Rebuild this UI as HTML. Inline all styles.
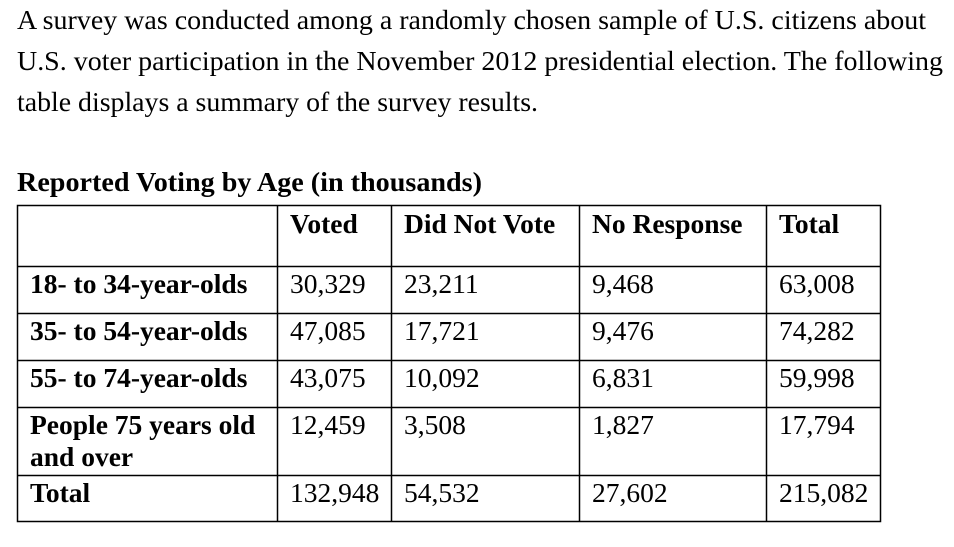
<!DOCTYPE html>
<html><head><meta charset="utf-8"><style>
html,body{margin:0;padding:0;background:#fff;}
svg{display:block;font-family:"Liberation Serif",serif;}
</style></head><body>
<svg width="954" height="547" viewBox="0 0 954 547" xmlns="http://www.w3.org/2000/svg">
<g font-size="27.5" fill="#000">
<text x="17" y="29" textLength="909" lengthAdjust="spacingAndGlyphs">A survey was conducted among a randomly chosen sample of U.S. citizens about</text>
<text x="17" y="70" textLength="926" lengthAdjust="spacingAndGlyphs">U.S. voter participation in the November 2012 presidential election. The following</text>
<text x="17" y="111" textLength="521" lengthAdjust="spacingAndGlyphs">table displays a summary of the survey results.</text>
</g>
<text x="17" y="191" font-size="27.5" font-weight="bold" textLength="465" lengthAdjust="spacingAndGlyphs">Reported Voting by Age (in thousands)</text>
<g id="tbl"></g>
</svg>
<script>
const columns = ["Voted","Did Not Vote","No Response","Total"];
const rowLabels = [["18- to 34-year-olds"],["35- to 54-year-olds"],["55- to 74-year-olds"],["People 75 years old","and over"],["Total"]];
const voted = ["30,329","47,085","43,075","12,459","132,948"];
const didNotVote = ["23,211","17,721","10,092","3,508","54,532"];
const noResponse = ["9,468","9,476","6,831","1,827","27,602"];
const totals = ["63,008","74,282","59,998","17,794","215,082"];

const NS="http://www.w3.org/2000/svg";
const g=document.getElementById('tbl');
const xs=[17,277,391,579,766,881];
const ys=[205,266,313,360,407,475,522];
function mk(tag,attrs){const e=document.createElementNS(NS,tag);for(const k in attrs)e.setAttribute(k,attrs[k]);g.appendChild(e);return e;}
mk('rect',{x:17.5,y:205.5,width:863,height:316,fill:'none',stroke:'#000','stroke-width':1.5});
for(let i=1;i<xs.length-1;i++){const l=mk('line',{x1:xs[i]+.5,x2:xs[i]+.5,y1:205,y2:522,stroke:'#000','stroke-width':1.5});

}
for(let i=1;i<ys.length-1;i++){const l=mk('line',{x1:17,x2:881,y1:ys[i]+.5,y2:ys[i]+.5,stroke:'#000','stroke-width':1.5});

}
columns.forEach((c,i)=>{const t=mk('text',{x:xs[i+1]+13,y:233,'font-size':27.5,'font-weight':'bold'});t.textContent=c;

});
const series=[voted,didNotVote,noResponse,totals];
rowLabels.forEach((lab,r)=>{
  const base=ys[r+1]+27;
  lab.forEach((ln,j)=>{const t=mk('text',{x:30,y:base+j*32,'font-size':27.5,'font-weight':'bold'});t.textContent=ln;
  
  });
  series.forEach((s,c)=>{const t=mk('text',{x:xs[c+1]+13,y:base,'font-size':27.5});t.textContent=s[r];
  
  });
});
</script>
</body></html>
